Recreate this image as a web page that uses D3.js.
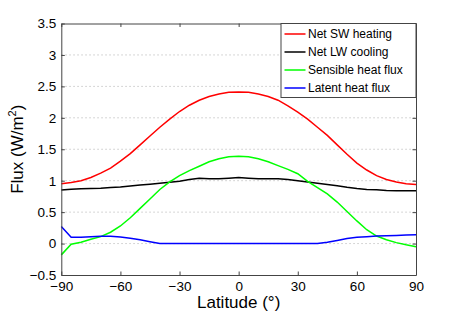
<!DOCTYPE html>
<html>
<head>
<meta charset="utf-8">
<script src="https://cdn.jsdelivr.net/npm/d3@7"></script>
<style>
  body { margin: 0; background: #fff; }
  text { font-family: "Liberation Sans", Arial, sans-serif; fill: #000; }
</style>
</head>
<body>
<script>
// latitude every 5 degrees, -90 .. 90
const latitudes = d3.range(-90, 91, 5);

const netSW = [0.95, 0.97, 1.00, 1.05, 1.12, 1.20, 1.31, 1.43, 1.57, 1.71, 1.85, 1.98, 2.10, 2.20, 2.28, 2.34, 2.38, 2.405, 2.41,
               2.405, 2.38, 2.34, 2.28, 2.19, 2.09, 1.98, 1.85, 1.72, 1.57, 1.42, 1.28, 1.17, 1.08, 1.02, 0.98, 0.95, 0.94];
const netLW = [0.85, 0.865, 0.87, 0.875, 0.88, 0.89, 0.90, 0.915, 0.93, 0.945, 0.96, 0.975, 0.99, 1.02, 1.04, 1.03, 1.03, 1.04, 1.05,
               1.04, 1.03, 1.03, 1.03, 1.02, 1.00, 0.98, 0.96, 0.94, 0.92, 0.895, 0.875, 0.86, 0.855, 0.845, 0.84, 0.84, 0.84];
const sensible = [-0.18, -0.01, 0.02, 0.07, 0.11, 0.18, 0.28, 0.41, 0.56, 0.71, 0.86, 0.98, 1.08, 1.16, 1.23, 1.30, 1.35, 1.38, 1.39,
                  1.38, 1.35, 1.30, 1.24, 1.18, 1.11, 0.99, 0.89, 0.79, 0.66, 0.51, 0.36, 0.22, 0.12, 0.06, 0.015, -0.02, -0.05];
const latent = [0.27, 0.10, 0.10, 0.11, 0.115, 0.115, 0.105, 0.085, 0.06, 0.03, 0.0, 0, 0, 0, 0, 0, 0, 0, 0,
                0, 0, 0, 0, 0, 0, 0, 0.0, 0.02, 0.05, 0.08, 0.10, 0.11, 0.12, 0.125, 0.13, 0.135, 0.14];

const seriesNames = ["Net SW heating", "Net LW cooling", "Sensible heat flux", "Latent heat flux"];
const seriesColors = ["#ff0000", "#000000", "#00ff00", "#0000ff"];
const xTicks = [-90, -60, -30, 0, 30, 60, 90];
const yTicks = d3.range(-0.5, 3.51, 0.5);

const W = 460, H = 314;
const plot = { left: 61.3, right: 416, top: 23.5, bottom: 275 };

const svg = d3.select('body').append('svg')
    .attr('width', W).attr('height', H);

const x = d3.scaleLinear().domain([-90, 90]).range([plot.left, plot.right]);
const y = d3.scaleLinear().domain([-0.5, 3.5]).range([plot.bottom, plot.top]);

// dotted horizontal grid
svg.append('g').selectAll('line')
    .data(yTicks.filter(d => d > -0.5 && d < 3.5))
    .join('line')
    .attr('x1', plot.left).attr('x2', plot.right)
    .attr('y1', d => y(d)).attr('y2', d => y(d))
    .attr('stroke', '#c8c8c8').attr('stroke-width', 1)
    .attr('stroke-dasharray', '1.5,2.5');

// curves
const allSeries = [netSW, netLW, sensible, latent];
const line = d3.line().x((d, i) => x(latitudes[i])).y(d => y(d));
svg.append('g').selectAll('path')
    .data(allSeries)
    .join('path')
    .attr('d', line)
    .attr('fill', 'none')
    .attr('stroke', (d, i) => seriesColors[i])
    .attr('stroke-width', 1.5);

// axes, MATLAB-style box with inward ticks
const fmt = d3.format('~g');
const axisColor = '#444';
const tickSize = 3.5;

const xAxis = svg.append('g').attr('transform', `translate(0,${plot.bottom})`)
    .call(d3.axisBottom(x).tickValues(xTicks).tickSizeInner(-tickSize).tickSizeOuter(0).tickPadding(6).tickFormat(fmt));
const xAxisTop = svg.append('g').attr('transform', `translate(0,${plot.top})`)
    .call(d3.axisTop(x).tickValues(xTicks).tickSizeInner(-tickSize).tickSizeOuter(0).tickFormat(''));
const yAxis = svg.append('g').attr('transform', `translate(${plot.left},0)`)
    .call(d3.axisLeft(y).tickValues(yTicks).tickSizeInner(-tickSize).tickSizeOuter(0).tickPadding(5).tickFormat(fmt));
const yAxisRight = svg.append('g').attr('transform', `translate(${plot.right},0)`)
    .call(d3.axisRight(y).tickValues(yTicks).tickSizeInner(-tickSize).tickSizeOuter(0).tickFormat(''));

[xAxis, xAxisTop, yAxis, yAxisRight].forEach(g => {
    g.select('.domain').attr('stroke', axisColor);
    g.selectAll('.tick line').attr('stroke', axisColor);
    g.selectAll('.tick text')
        .style('font-family', '"Liberation Sans", Arial, sans-serif')
        .style('font-size', '13.5px')
        .attr('fill', '#000');
});

// axis titles
svg.append('text')
    .attr('x', (plot.left + plot.right) / 2)
    .attr('y', 308)
    .attr('text-anchor', 'middle')
    .style('font-size', '17px')
    .text('Latitude (°)');

const yl = svg.append('text')
    .attr('transform', `translate(23,${(plot.top + plot.bottom) / 2}) rotate(-90)`)
    .attr('text-anchor', 'middle')
    .style('font-size', '17px');
yl.append('tspan').text('Flux (W/m');
yl.append('tspan').text('2').style('font-size', '11px').attr('dy', -7);
yl.append('tspan').text(')').attr('dy', 7);

// legend
const legend = { x0: 281, y0: 23.5, w: 135, h: 74, row0: 34, gap: 18 };
svg.append('rect')
    .attr('x', legend.x0).attr('y', legend.y0)
    .attr('width', legend.w).attr('height', legend.h)
    .attr('fill', '#fff').attr('stroke', axisColor).attr('stroke-width', 1);

seriesNames.forEach((name, i) => {
    const ly = legend.row0 + i * legend.gap;
    svg.append('line')
        .attr('x1', legend.x0 + 3.5).attr('x2', legend.x0 + 24.5)
        .attr('y1', ly).attr('y2', ly)
        .attr('stroke', seriesColors[i]).attr('stroke-width', 1.5);
    svg.append('text')
        .attr('x', legend.x0 + 27).attr('y', ly + 4.3)
        .style('font-size', '12px')
        .text(name);
});
</script>
</body>
</html>
